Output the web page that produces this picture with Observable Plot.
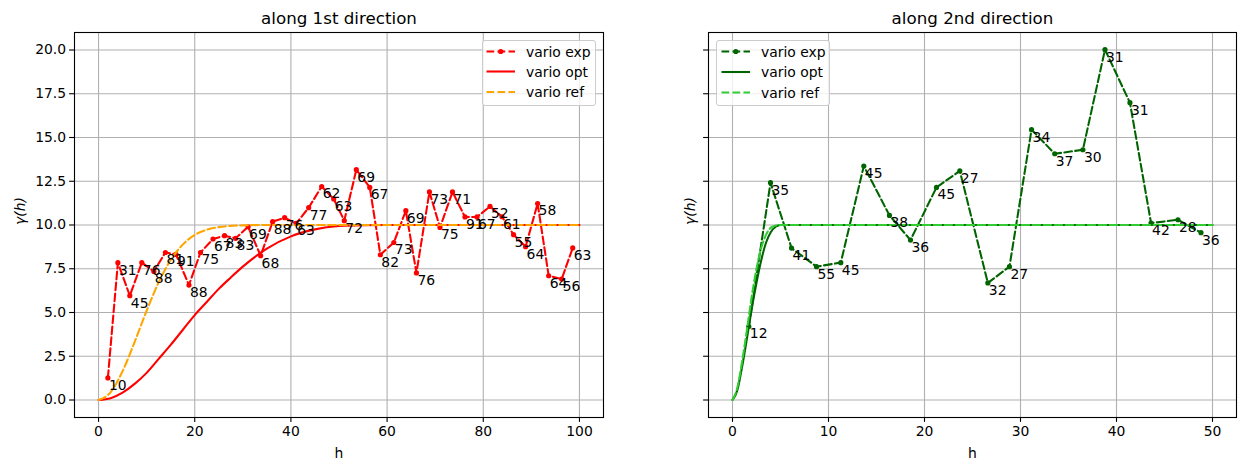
<!DOCTYPE html>
<html><head><meta charset="utf-8">
<script src="https://cdn.jsdelivr.net/npm/d3@7"></script>
<script src="https://cdn.jsdelivr.net/npm/@observablehq/plot@0.6"></script>
<style>
body{margin:0;background:#fff;font-family:"DejaVu Sans",sans-serif;}
#wrap{position:relative;width:1246px;height:470px;display:flex;overflow:hidden;}
#wrap svg{display:block;}
.legend{position:absolute;background:rgba(255,255,255,0.8);border:1px solid #cccccc;border-radius:3px;box-sizing:border-box;}
</style></head><body><div id="wrap"></div><script>
// ---- data ----
const yTicks = [0, 2.5, 5, 7.5, 10, 12.5, 15, 17.5, 20];
const xTicksLeft = [0, 20, 40, 60, 80, 100];
const xTicksRight = [0, 10, 20, 30, 40, 50];

// along 1st direction: experimental variogram
const leftH = [1.94,4.02,6.5,9.0,11.5,13.9,16.1,18.8,21.2,23.8,26.2,28.5,31.1,33.7,36.2,38.7,41.1,43.7,46.4,48.9,51.1,53.6,56.4,58.6,61.4,63.9,66.1,68.8,71.0,73.6,76.2,78.7,81.4,83.9,86.3,88.8,91.3,93.6,96.3,98.6];
const leftGamma = [1.26,7.85,5.96,7.85,7.35,8.43,8.32,6.57,8.43,9.2,9.39,9.24,9.9,8.25,10.19,10.42,10.09,10.99,12.2,11.49,10.25,13.16,12.15,8.3,9.0,10.82,7.26,11.89,9.86,11.89,10.46,10.46,11.06,10.47,9.45,8.76,11.23,7.1,6.91,8.69];
const leftCount = [10,31,45,76,88,81,91,88,75,67,83,83,69,68,88,76,63,77,62,63,72,69,67,82,73,69,76,73,75,71,91,67,52,61,55,64,58,64,56,63];
// along 1st direction: model curves (sampled)
const leftModelH = [0,2.5,5,7.5,10,12.5,15,17.5,20,22.5,25,27.5,30,35,40,45,50,55,60,70,80,90,100];
const leftOpt = [0,0.1,0.42,0.92,1.55,2.35,3.15,4.0,4.85,5.6,6.35,7.0,7.62,8.65,9.35,9.75,9.94,9.99,10,10,10,10,10];
const leftRef = [0,0.44,1.65,3.31,5.1,6.72,8.0,8.88,9.43,9.73,9.88,9.95,9.98,10,10,10,10,10,10,10,10,10,10];

// along 2nd direction: experimental variogram
const rightH = [1.70,3.96,6.15,8.75,11.28,13.68,16.35,18.54,21.25,23.68,26.6,28.85,31.15,33.57,36.5,38.8,41.4,43.6,46.4,48.8];
const rightGamma = [4.2,12.42,8.68,7.62,7.85,13.37,10.55,9.14,12.15,13.09,6.69,7.62,15.45,14.07,14.3,20.02,16.99,10.11,10.3,9.56];
const rightCount = [12,35,41,55,45,45,38,36,45,27,32,27,34,37,30,31,31,42,28,36];
// along 2nd direction: model curves (sampled)
const rightModelH = [0,0.5,1,1.5,2,2.5,3,3.5,4,4.5,5,6,8,10,20,30,40,50];
const rightOpt = [0,0.55,1.9,3.5,5.2,6.7,8.0,9.0,9.6,9.9,10,10,10,10,10,10,10,10];
const rightRef = [0,0.7,2.2,4.0,5.9,7.5,8.7,9.45,9.85,9.97,10,10,10,10,10,10,10,10];

const legendLabels = ["vario exp", "vario opt", "vario ref"];
const titles = ["along 1st direction", "along 2nd direction"];

const FONT = '"DejaVu Sans", sans-serif';
const FS = 13.9;
const LW = 2.08;
const DASH = "7.7,3.3";

function panel(o) {
  const exp = o.expH.map((h, i) => ({h, g: o.expG[i], n: String(o.expN[i])}));
  const optD = o.gridH.map((h, i) => ({h, g: o.opt[i]}));
  const refD = o.gridH.map((h, i) => ({h, g: o.ref[i]}));
  return Plot.plot({
    width: o.w, height: 470,
    marginLeft: o.ml, marginRight: o.mr, marginTop: 32, marginBottom: 53,
    style: {fontFamily: FONT, fontSize: FS + "px", color: "#000", background: "white", overflow: "visible"},
    x: {domain: o.xDomain},
    y: {domain: [-1, 21]},
    marks: [
      Plot.gridX(o.xTicks, {stroke: "#b0b0b0", strokeOpacity: 1, strokeWidth: 1.1}),
      Plot.gridY(yTicks, {stroke: "#b0b0b0", strokeOpacity: 1, strokeWidth: 1.1}),
      Plot.line(exp, {x: "h", y: "g", stroke: o.cExp, strokeWidth: LW, strokeDasharray: DASH}),
      Plot.dot(exp, {x: "h", y: "g", r: 2.6, fill: o.cExp, stroke: "none"}),
      Plot.line(optD, {x: "h", y: "g", stroke: o.cOpt, strokeWidth: LW, curve: "monotone-x"}),
      Plot.line(refD, {x: "h", y: "g", stroke: o.cRef, strokeWidth: LW, strokeDasharray: DASH, curve: "monotone-x"}),
      Plot.text(exp, {x: "h", y: "g", text: "n", textAnchor: "start", lineAnchor: "top", dx: 1, dy: 2, fontSize: FS, fill: "black"}),
      Plot.frame({stroke: "black", strokeWidth: 1.1}),
      Plot.axisX(o.xTicks, {tickSize: 4.9, tickPadding: 3.5, label: null, fontSize: FS, strokeWidth: 1.1}),
      Plot.axisY(yTicks, {tickSize: 4.9, tickPadding: 3.5, label: null, fontSize: FS, strokeWidth: 1.1,
        tickFormat: o.yLabels ? (d => d.toFixed(1)) : (() => "")}),
      Plot.text([o.title], {text: d => d, frameAnchor: "top", dy: -14, lineAnchor: "middle", fontSize: 16.7}),
      Plot.text(["h"], {text: d => d, frameAnchor: "bottom", dy: 36, lineAnchor: "middle", fontSize: FS}),
      Plot.text(["γ(h)"], {text: d => d, frameAnchor: "left", dx: o.ylabDx, rotate: -90, lineAnchor: "middle", fontStyle: "italic", fontSize: FS})
    ]
  });
}

const wrap = document.getElementById("wrap");
wrap.appendChild(panel({
  w: 655, ml: 74, mr: 52, xDomain: [-5, 105], xTicks: xTicksLeft, title: titles[0],
  expH: leftH, expG: leftGamma, expN: leftCount, gridH: leftModelH, opt: leftOpt, ref: leftRef,
  cExp: "red", cOpt: "red", cRef: "orange", yLabels: true, ylabDx: -54
}));
wrap.appendChild(panel({
  w: 591, ml: 53, mr: 10, xDomain: [-2.5, 52.5], xTicks: xTicksRight, title: titles[1],
  expH: rightH, expG: rightGamma, expN: rightCount, gridH: rightModelH, opt: rightOpt, ref: rightRef,
  cExp: "darkgreen", cOpt: "darkgreen", cRef: "limegreen", yLabels: false, ylabDx: -18
}));

function legend(left, top, colors, lx0, lx1, tx, ys) {
  const div = document.createElement("div");
  div.className = "legend";
  div.style.left = left + "px"; div.style.top = top + "px";
  div.style.width = "114px"; div.style.height = "66px";
  const styles = [
    {dash: DASH, dot: true}, {dash: null, dot: false}, {dash: DASH, dot: false}
  ];
  let s = `<svg width="112" height="64" style="position:absolute;left:0;top:0;overflow:visible">`;
  legendLabels.forEach((lab, i) => {
    const y = ys[i];
    s += `<line x1="${lx0}" x2="${lx1}" y1="${y}" y2="${y}" stroke="${colors[i]}" stroke-width="${LW}" ${styles[i].dash ? `stroke-dasharray="${styles[i].dash}"` : ""}/>`;
    if (styles[i].dot) s += `<circle cx="${(lx0 + lx1) / 2}" cy="${y}" r="2.6" fill="${colors[i]}"/>`;
    s += `<text x="${tx}" y="${y}" dy="0.36em" font-family='${FONT}' font-size="${FS}" fill="black">${lab}</text>`;
  });
  s += `</svg>`;
  div.innerHTML = s;
  wrap.appendChild(div);
}
legend(481.5, 40, ["red", "red", "orange"], 3.5, 32, 43, [10.5, 30.5, 51]);
legend(715.5, 40, ["darkgreen", "darkgreen", "limegreen"], 4.5, 33, 44, [10.5, 31, 51.5]);
</script></body></html>
